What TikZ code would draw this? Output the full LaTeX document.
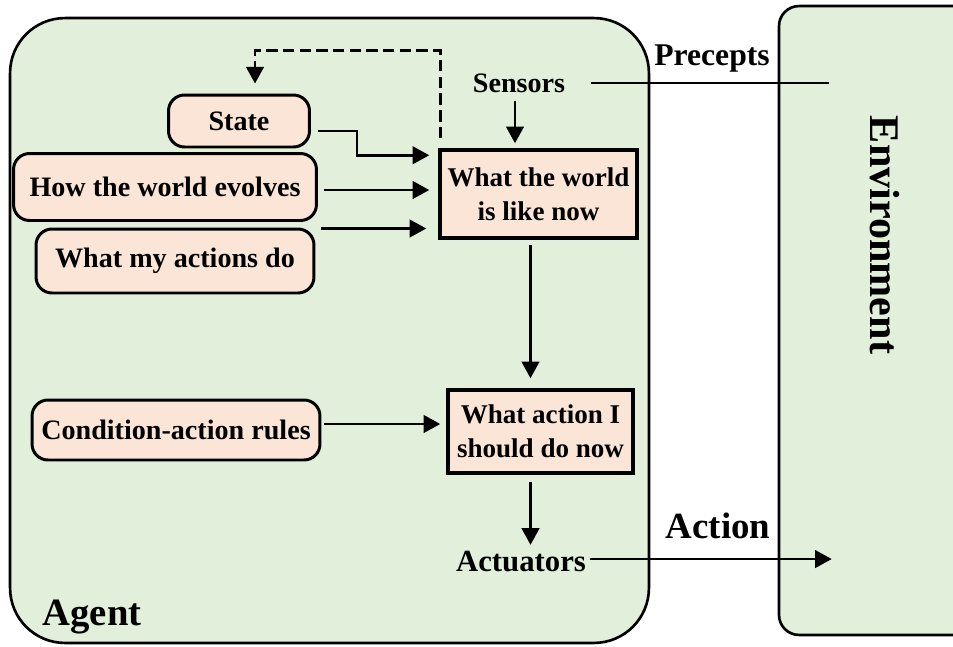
\documentclass[tikz,border=0pt]{standalone}
\usepackage{fontspec}
\setmainfont{Liberation Serif}
\usetikzlibrary{arrows.meta,calc}

\definecolor{agentgreen}{HTML}{E2EFDA}
\definecolor{memorypink}{HTML}{FBE5D6}

\begin{document}
\begin{tikzpicture}[
		x=0.02cm,
		y=-0.02cm,
		font=\fontsize{16}{19.3}\selectfont\bfseries,
		>={Triangle[length=9.5pt,width=10pt]},
		every node/.style={inner sep=2pt},
		frame/.style={draw,line width=1.5pt,fill=agentgreen},
		memory/.style={draw,line width=1.7pt,fill=memorypink,rounded corners=0.32cm,inner sep=0pt},
		stage/.style={draw,line width=2pt,fill=memorypink,align=center,inner sep=0pt,font=\fontsize{15.4}{19.3}\selectfont\bfseries},
		flow/.style={->,line width=1.5pt},
		feedback/.style={->,line width=1.5pt,dash pattern=on 6.5pt off 3pt}
	]

		\useasboundingbox (0,0) rectangle (953,646);
		\clip (0,0) rectangle (953,646);

		% Frames
		\node[frame,rounded corners=1.1cm,minimum width=12.78cm,minimum height=12.5cm] (agent) at (329.5,330.5) {};
		\node[frame,rounded corners=0.4cm,minimum width=3.92cm,minimum height=12.58cm] (env) at (877,320.5) {};
		\node[rotate=-90,font=\fontsize{24}{24}\selectfont\bfseries] (envlabel) at (885,235) {Environment};
		\node[anchor=base,font=\fontsize{22}{22}\selectfont\bfseries] (agentlabel) at (92,625) {Agent};

		% Sensors and actuators
		\node[anchor=base] (sensors) at (519,92) {Sensors};
		\node[anchor=base,font=\fontsize{17.5}{17.5}\selectfont\bfseries] (actuators) at (521,571) {Actuators};
		\node[anchor=base,font=\fontsize{18}{18}\selectfont\bfseries] (precepts) at (712,65) {Precepts};
		\node[anchor=base,font=\fontsize{21}{21}\selectfont\bfseries] (action) at (718,538) {Action};

		% Memory
		\node[memory,minimum width=2.82cm,minimum height=1.04cm] (state) at (239,121) {State};
		\node[memory,minimum width=6.06cm,minimum height=1.34cm] (evolves) at (165,187) {How the world evolves};
		\node[memory,minimum width=5.56cm,minimum height=1.28cm] (effects) at (175,261) {What my actions do};
		\node[memory,minimum width=5.76cm,minimum height=1.2cm] (rules) at (176,430) {Condition-action rules};

		% Stages
		\node[stage,minimum width=3.94cm,minimum height=1.76cm] (world) at (538.5,194) {What the world\\is like now};
		\node[stage,minimum width=3.7cm,minimum height=1.66cm] (decide) at (540.5,431.5) {What action I\\should do now};

		% Arrows
		\draw[feedback] ([shift={(2,-10)}]world.north west) |- ([shift={(16,-43)}]state.north) -- ([shift={(16,-10)}]state.north);
		\draw[flow] ([shift={(7,10)}]state.east) -- ++(39,0) |- ([shift={(-9,7)}]world.north west);
		\draw[flow] ([shift={(6,3)}]evolves.east) -- ([shift={(-9,-4)}]world.west);
		\draw[flow] ($(effects.north east)+(6,1)$) -- ($(effects.north east -| world.west)+(-12,1)$);
		\draw[flow] ($(sensors.south)+(-4,5)$) -- ($(sensors.south |- world.north)+(-4,-5)$);
		\draw[line width=1.5pt] ($(sensors.east)+(22,0)$) -- ($(sensors.east -| env.west)+(51,0)$);
		\draw[flow] ($(world.south)+(-8,5)$) -- ($(decide.north)+(-10,-10)$);
		\draw[flow] ($(rules.east)+(3,-6)$) -- ($(decide.west)+(-6,-7.5)$);
		\draw[flow] ($(decide.south)+(-10,7)$) -- ($(decide.south |- actuators.north)+(-10,-2)$);
		\draw[flow] ($(actuators.east)+(0,-2)$) -- ($(actuators.east -| env.west)+(54,-2)$);
	\end{tikzpicture}
\end{document}
